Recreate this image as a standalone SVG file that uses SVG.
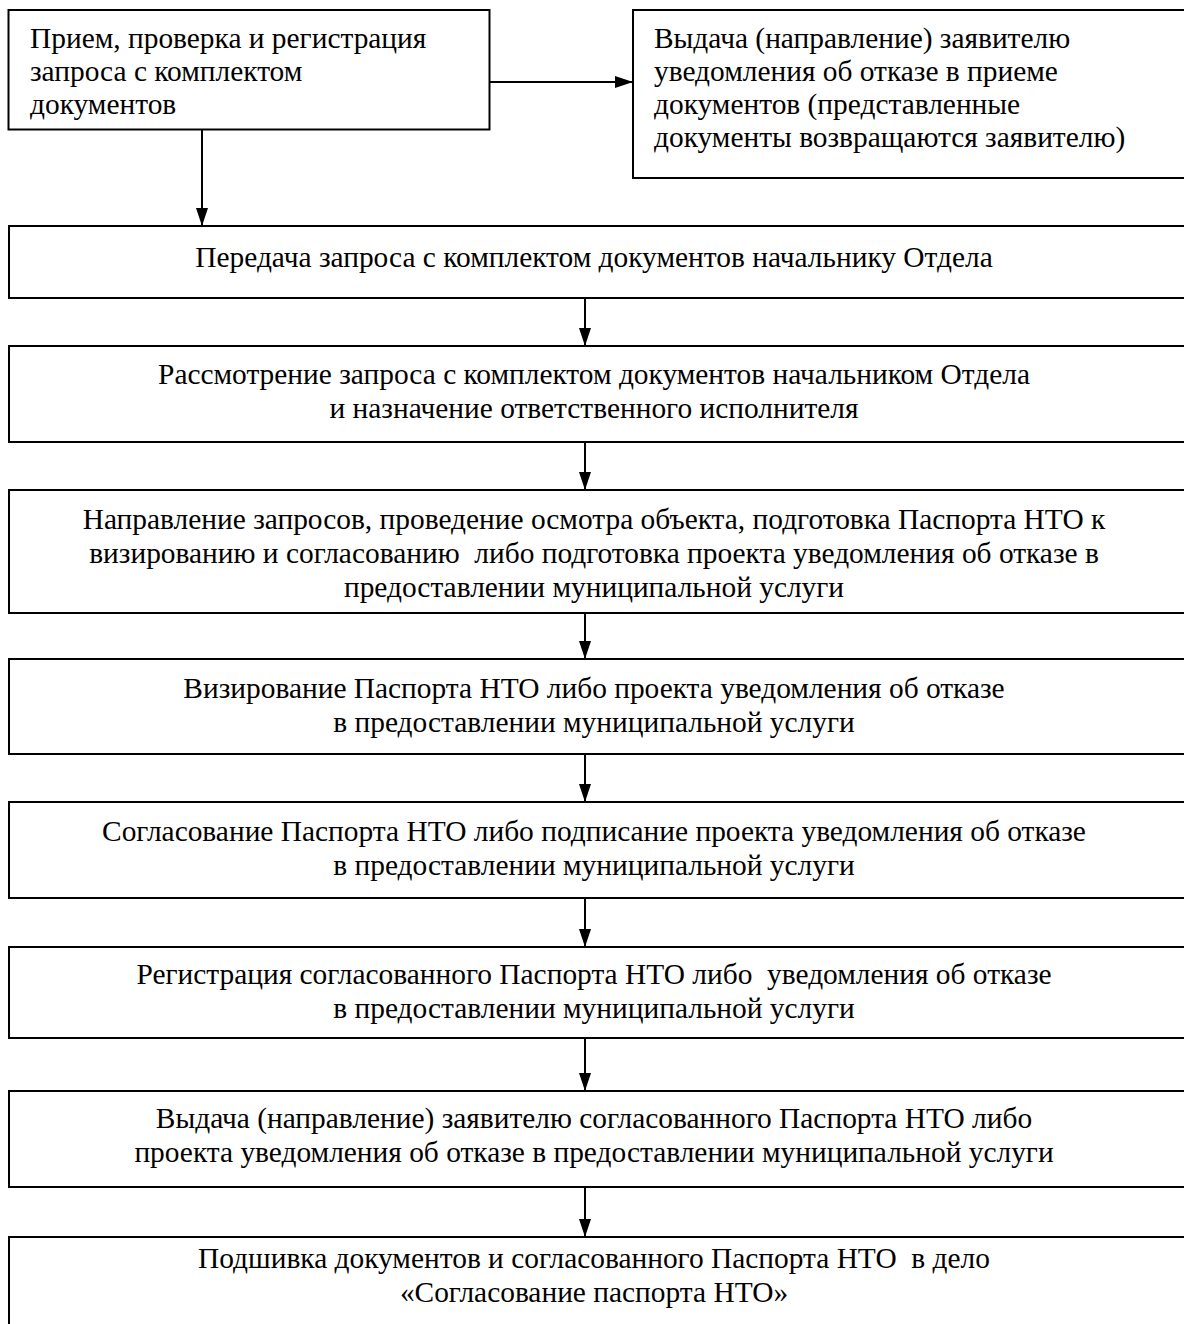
<svg xmlns="http://www.w3.org/2000/svg" width="1184" height="1324" viewBox="0 0 1184 1324">
<style>
.box{fill:#fff;stroke:#000;stroke-width:2}
.t{font-family:"Liberation Serif","Times New Roman",serif;font-size:29.4px;fill:#000}
.c{text-anchor:middle}
.ln{stroke:#000;stroke-width:2;fill:none}
</style>
<defs>
<marker id="ah" markerWidth="18" markerHeight="12" refX="18" refY="6" viewBox="0 0 18 12" markerUnits="userSpaceOnUse" orient="auto">
<path d="M0,0 L18,6 L0,12 Z" fill="#000"/>
</marker>
</defs>
<rect width="1184" height="1324" fill="#fff"/>
<g id="n1"><rect class="box" x="8.5" y="10" width="481" height="119.5"/>
<text class="t" x="30" y="48">Прием, проверка и регистрация</text>
<text class="t" x="30" y="81">запроса с комплектом</text>
<text class="t" x="30" y="114">документов</text></g>
<g id="n2"><rect class="box" x="633" y="10" width="570" height="168"/>
<text class="t" x="654" y="48">Выдача (направление) заявителю</text>
<text class="t" x="654" y="81">уведомления об отказе в приеме</text>
<text class="t" x="654" y="114">документов (представленные</text>
<text class="t" x="654" y="147">документы возвращаются заявителю)</text></g>
<g id="n3"><rect class="box" x="9" y="226" width="1190" height="72"/>
<text class="t c" x="594" y="267">Передача запроса с комплектом документов начальнику Отдела</text></g>
<g id="n4"><rect class="box" x="9" y="346" width="1190" height="96"/>
<text class="t c" x="594" y="384">Рассмотрение запроса с комплектом документов начальником Отдела</text>
<text class="t c" x="594" y="418">и назначение ответственного исполнителя</text></g>
<g id="n5"><rect class="box" x="9" y="490" width="1190" height="123"/>
<text class="t c" x="594" y="529">Направление запросов, проведение осмотра объекта, подготовка Паспорта НТО к</text>
<text class="t c" x="594" y="563" xml:space="preserve">визированию и согласованию  либо подготовка проекта уведомления об отказе в</text>
<text class="t c" x="594" y="597">предоставлении муниципальной услуги</text></g>
<g id="n6"><rect class="box" x="9" y="659" width="1190" height="95"/>
<text class="t c" x="594" y="698">Визирование Паспорта НТО либо проекта уведомления об отказе</text>
<text class="t c" x="594" y="732">в предоставлении муниципальной услуги</text></g>
<g id="n7"><rect class="box" x="9" y="802" width="1190" height="96"/>
<text class="t c" x="594" y="841">Согласование Паспорта НТО либо подписание проекта уведомления об отказе</text>
<text class="t c" x="594" y="875">в предоставлении муниципальной услуги</text></g>
<g id="n8"><rect class="box" x="9" y="947" width="1190" height="91"/>
<text class="t c" x="594" y="984" xml:space="preserve">Регистрация согласованного Паспорта НТО либо  уведомления об отказе</text>
<text class="t c" x="594" y="1018">в предоставлении муниципальной услуги</text></g>
<g id="n9"><rect class="box" x="9" y="1091" width="1190" height="96"/>
<text class="t c" x="594" y="1128">Выдача (направление) заявителю согласованного Паспорта НТО либо</text>
<text class="t c" x="594" y="1162">проекта уведомления об отказе в предоставлении муниципальной услуги</text></g>
<g id="n10"><rect class="box" x="9" y="1237" width="1190" height="100"/>
<text class="t c" x="594" y="1268" xml:space="preserve">Подшивка документов и согласованного Паспорта НТО  в дело</text>
<text class="t c" x="594" y="1302">«Согласование паспорта НТО»</text></g>
<g id="connectors">
<line class="ln" x1="490" y1="82" x2="633" y2="82" marker-end="url(#ah)"/>
<line class="ln" x1="202" y1="130" x2="202" y2="226" marker-end="url(#ah)"/>
<line class="ln" x1="585" y1="298" x2="585" y2="346" marker-end="url(#ah)"/>
<line class="ln" x1="585" y1="442" x2="585" y2="490" marker-end="url(#ah)"/>
<line class="ln" x1="585" y1="613" x2="585" y2="659" marker-end="url(#ah)"/>
<line class="ln" x1="585" y1="754" x2="585" y2="802" marker-end="url(#ah)"/>
<line class="ln" x1="585" y1="898" x2="585" y2="947" marker-end="url(#ah)"/>
<line class="ln" x1="585" y1="1038" x2="585" y2="1091" marker-end="url(#ah)"/>
<line class="ln" x1="585" y1="1187" x2="585" y2="1237" marker-end="url(#ah)"/>
</g>
</svg>
